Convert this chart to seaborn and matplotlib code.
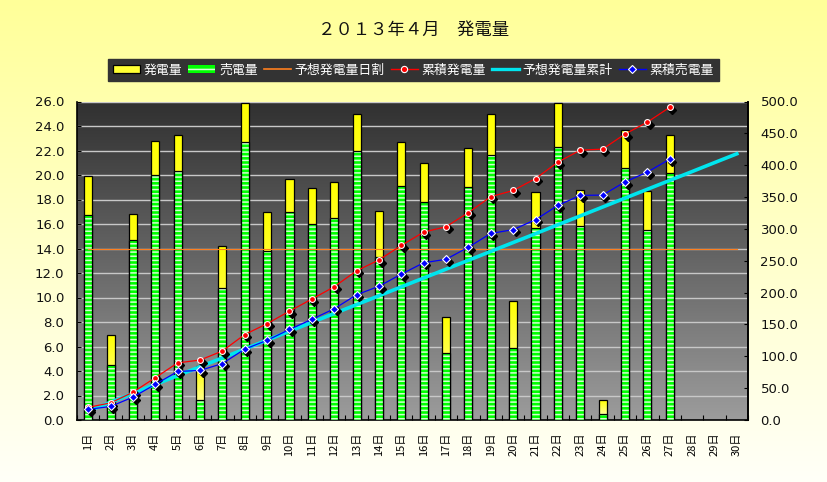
import numpy as np
import pandas as pd
import matplotlib
matplotlib.use("Agg")
import matplotlib.pyplot as plt
import seaborn as sns
from matplotlib.transforms import offset_copy
from matplotlib.patches import Patch, Rectangle
from matplotlib.lines import Line2D
from matplotlib.colors import LinearSegmentedColormap
from matplotlib.ticker import FormatStrFormatter, FixedLocator

# ---------------- data ----------------
days = [f"{d}日" for d in range(1, 31)]
generated = [19.9, 6.9, 16.8, 22.8, 23.3, 4.4, 14.2, 25.9, 17.0, 19.7, 18.9, 19.4, 25.0, 17.1,
             22.7, 21.0, 8.4, 22.2, 25.0, 9.7, 18.6, 25.9, 18.8, 1.6, 23.7, 18.7, 23.3]
sold = [16.7, 4.5, 14.7, 20.0, 20.3, 1.6, 10.8, 22.7, 13.8, 17.0, 16.0, 16.5, 22.0, 13.3,
        19.1, 17.8, 5.5, 19.0, 21.6, 5.9, 15.7, 22.3, 15.8, 0.5, 20.6, 15.5, 20.2]
forecast_daily = [13.93] * 30
cum_generated = [19.9, 26.8, 43.6, 66.4, 89.7, 94.1, 108.3, 134.2, 151.2, 170.9, 189.8, 209.2,
                 234.2, 251.3, 274.0, 295.0, 303.4, 325.6, 350.6, 360.3, 378.9, 404.8, 423.6,
                 425.2, 448.9, 467.6, 490.9]
cum_sold = [16.7, 21.2, 35.9, 55.9, 76.2, 77.8, 88.6, 111.3, 125.1, 142.1, 158.1, 174.6, 196.6,
            209.9, 229.0, 246.8, 252.3, 271.3, 292.9, 298.8, 314.5, 336.8, 352.6, 353.1, 373.7,
            389.2, 409.4]
cum_forecast = [13.9, 27.9, 41.8, 55.7, 69.7, 83.6, 97.5, 111.4, 125.4, 139.3, 153.2, 167.2,
                181.1, 195.0, 209.0, 222.9, 236.8, 250.7, 264.7, 278.6, 292.5, 306.5, 320.4,
                334.3, 348.3, 362.2, 376.1, 390.0, 404.0, 417.9]
left_ticks = [0, 2, 4, 6, 8, 10, 12, 14, 16, 18, 20, 22, 24, 26]
right_ticks = [0, 50, 100, 150, 200, 250, 300, 350, 400, 450, 500]
title = "２０１３年４月　発電量"
legend_labels = ["発電量", "売電量", "予想発電量日割", "累積発電量", "予想発電量累計", "累積売電量"]

df = pd.DataFrame({"day": days[:len(generated)], "generated": generated, "sold": sold})

CJK = ["Noto Sans CJK JP", "DejaVu Sans"]
plt.rcParams["hatch.linewidth"] = 1.1

W, H = 827, 482
fig = plt.figure(figsize=(W / 100, H / 100), dpi=100)
fig.patch.set_facecolor("#FFFFCC")

# figure background gradient
bg = fig.add_axes([0, 0, 1, 1], zorder=-2)
fig_cmap = LinearSegmentedColormap.from_list("fbg", ["#FFFFF8", "#FFFF99"])
bg.imshow(np.linspace(0, 1, 256).reshape(-1, 1)[::-1], cmap=fig_cmap, aspect="auto",
          extent=[0, 1, 0, 1], interpolation="bilinear")
bg.set_axis_off()

pos = [77 / W, 1 - 420 / H, (748 - 77) / W, (420 - 101.5) / H]
# plot-area gradient
pbg = fig.add_axes(pos, zorder=-1)
p_cmap = LinearSegmentedColormap.from_list("pbg", ["#9C9C9C", "#303030"])
pbg.imshow(np.linspace(0, 1, 256).reshape(-1, 1)[::-1], cmap=p_cmap, aspect="auto",
           extent=[0, 1, 0, 1], interpolation="bilinear")
pbg.set_axis_off()

ax = fig.add_axes(pos)
ax.patch.set_visible(False)

# ---- bars ----
sns.barplot(data=df, x="day", y="generated", order=days, color="#FFFF00", saturation=1,
            width=0.36, errorbar=None, edgecolor="black", linewidth=0.9, ax=ax)
sns.barplot(data=df, x="day", y="sold", order=days, color="#00FF00", saturation=1,
            width=0.36, errorbar=None, edgecolor="#D4FFD4", linewidth=0, hatch="----", ax=ax)

ax.set_xlim(-0.5, 29.5)
ax.set_ylim(0, 26)

# gradient fill for generated bars
y_cmap = LinearSegmentedColormap.from_list("ybar", ["#FFFF00", "#FFFFD8"])
grad = np.linspace(0, 1, 256).reshape(-1, 1)
for rect in ax.containers[0]:
    h = rect.get_height()
    if not np.isfinite(h) or h <= 0:
        continue
    x0, w = rect.get_x(), rect.get_width()
    im = ax.imshow(grad, extent=[x0, x0 + w, 0, h], aspect="auto", cmap=y_cmap,
                   origin="upper", zorder=1.9, interpolation="bilinear")
    im.set_clip_path(rect)
    rect.set_facecolor("none")
    rect.set_zorder(2)
for rect in ax.containers[1]:
    rect.set_zorder(3)
    h = rect.get_height()
    if not np.isfinite(h) or h <= 0:
        continue
    ax.add_patch(Rectangle((rect.get_x(), rect.get_y()), rect.get_width(), h,
                           fill=False, ec="black", lw=0.9, zorder=3.1))

ax.set_xlim(-0.5, 29.5)
ax.set_ylim(0, 26)

# orange daily forecast line
ax.plot(range(30), forecast_daily, color="#FF7F1E", lw=0.8, zorder=4)

ax.set_yticks(left_ticks)
ax.yaxis.set_major_formatter(FormatStrFormatter("%.1f"))
ax.grid(axis="y", color="#C8C8C8", lw=1.0)
ax.set_axisbelow(True)
ax.set_xticks(range(30))
ax.set_xticklabels(days, rotation=90, fontsize=8, family=CJK, color="#000000")
ax.xaxis.set_minor_locator(FixedLocator(np.arange(-0.5, 30, 1)))
ax.tick_params(axis="x", which="major", length=0, pad=9)
ax.tick_params(axis="x", which="minor", direction="in", length=3.5, width=0.8)
ax.tick_params(axis="y", direction="in", length=3, width=0.8, labelsize=9.5, pad=9,
               labelcolor="#111111")
ax.set_xlabel("")
ax.set_ylabel("")
for s in ax.spines.values():
    s.set_color("black")
    s.set_linewidth(1.2)
ax.spines["top"].set_visible(False)

# ---- right axis: cumulative lines ----
ax2 = ax.twinx()
ax2.set_ylim(0, 500)
ax2.set_yticks(right_ticks)
ax2.yaxis.set_major_formatter(FormatStrFormatter("%.1f"))
ax2.tick_params(axis="y", direction="in", length=3, width=0.8, labelsize=9.5, pad=9,
                labelcolor="#111111")
for s in ax2.spines.values():
    s.set_visible(False)
ax2.spines["right"].set_visible(True)
ax2.spines["right"].set_color("black")
ax2.spines["right"].set_linewidth(1.2)

x27 = np.arange(len(cum_generated))
shadow = offset_copy(ax2.transData, fig=fig, x=2.6, y=-2.6, units="dots")

sns.lineplot(x=np.arange(30), y=cum_forecast, color="#00E5EE", lw=2.6, ax=ax2, zorder=2)
ax2.plot(x27, cum_generated, ls="none", marker="D", ms=4.0, color="black", transform=shadow,
         zorder=2.5)
ax2.plot(x27, cum_sold, ls="none", marker="D", ms=4.0, color="black", transform=shadow,
         zorder=2.5)
sns.lineplot(x=x27, y=cum_generated, color="#FF0000", lw=0.9, marker="o", markersize=4.2,
             markerfacecolor="#FF0000", markeredgecolor="white", markeredgewidth=0.8,
             ax=ax2, zorder=3)
sns.lineplot(x=x27, y=cum_sold, color="#0000FF", lw=0.9, marker="D", markersize=4.2,
             markerfacecolor="#0000FF", markeredgecolor="white", markeredgewidth=0.8,
             ax=ax2, zorder=4)
ax2.set_xlim(-0.5, 29.5)
ax2.set_ylim(0, 500)
ax2.set_ylabel("")
ax2.set_xlabel("")

# ---- title ----
fig.text(0.5, 1 - 30 / H, title, ha="center", va="center", fontsize=12.5, family=CJK,
         color="#111111")

# ---- legend ----
handles = [
    Patch(facecolor="#FFFF33", edgecolor="black", lw=0.9),
    Patch(facecolor="#00FF00", edgecolor="#D4FFD4", lw=0, hatch="---"),
    Line2D([], [], color="#FF7F1E", lw=1.2),
    Line2D([], [], color="#FF0000", lw=1.0, marker="o", ms=4.5, mfc="#FF0000", mec="white", mew=0.8),
    Line2D([], [], color="#00E5EE", lw=2.4),
    Line2D([], [], color="#0000FF", lw=1.0, marker="D", ms=4.5, mfc="#0000FF", mec="white", mew=0.8),
]
leg = fig.legend(handles, legend_labels, loc="center", bbox_to_anchor=(0.5, 1 - 70 / H), ncol=6,
                 frameon=True, facecolor="#333333", edgecolor="#333333", framealpha=1,
                 fancybox=False, prop={"family": CJK, "size": 9.3}, labelcolor="white",
                 handlelength=2.1, handleheight=0.6, columnspacing=0.45, handletextpad=0.3,
                 borderpad=0.35, borderaxespad=0)

fig.savefig("out.png", dpi=100)
